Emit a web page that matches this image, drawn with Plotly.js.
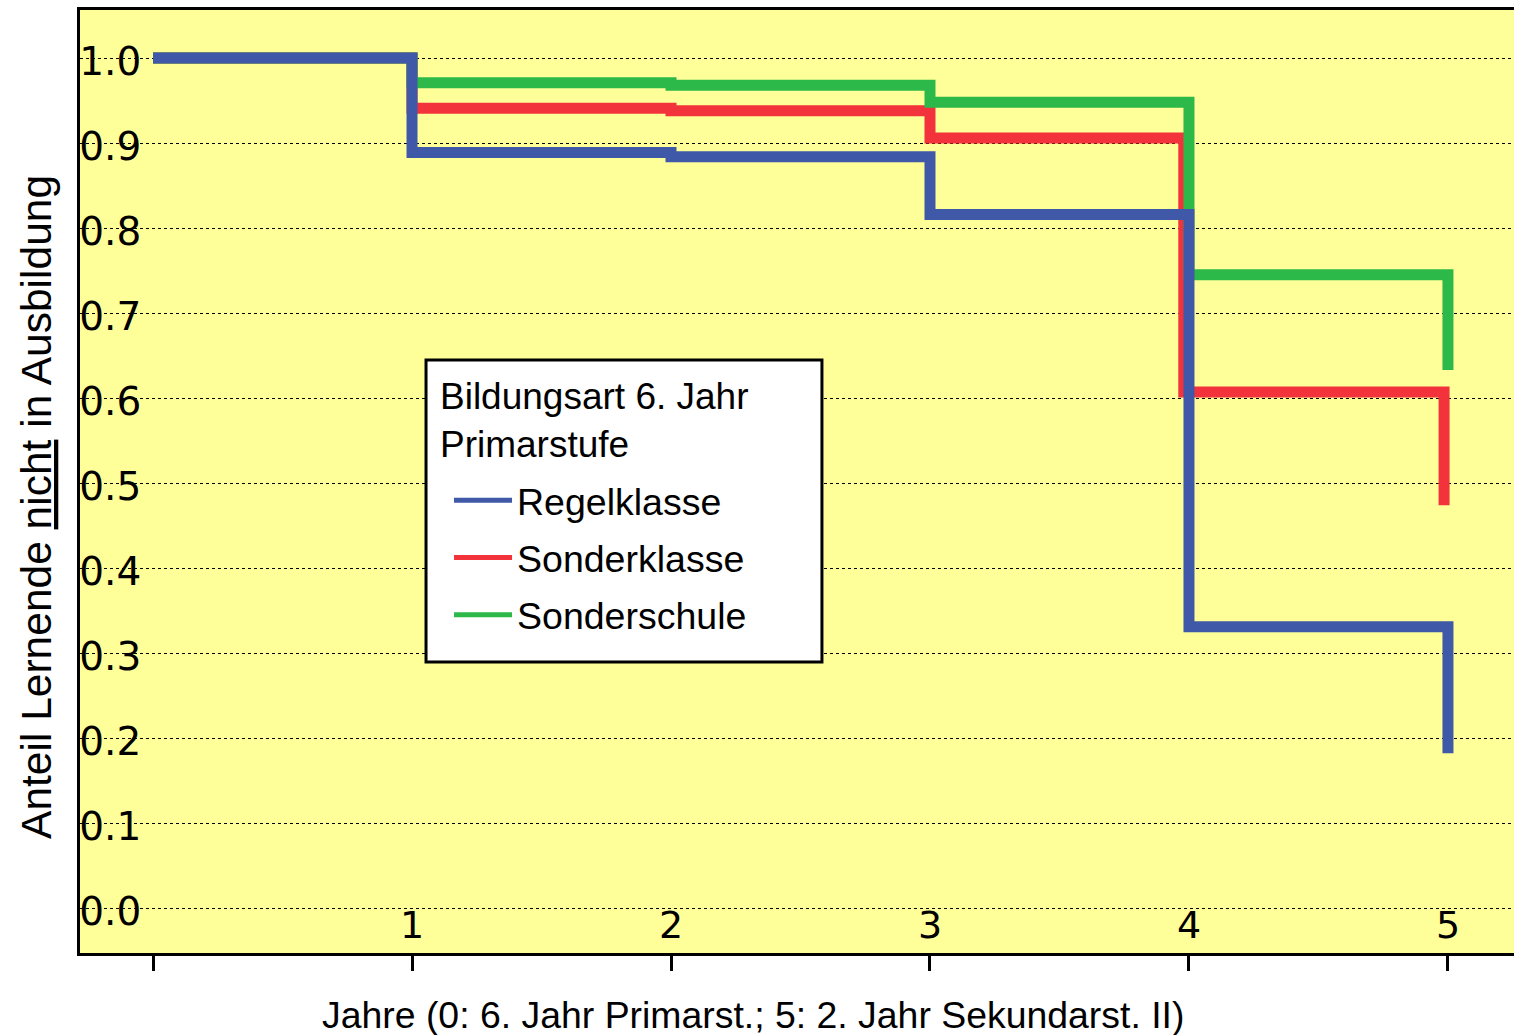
<!DOCTYPE html>
<html>
<head>
<meta charset="utf-8">
<script src="https://cdn.plot.ly/plotly-3.0.1.min.js"></script>
<style>html,body{margin:0;padding:0;background:#fff;overflow:hidden}</style>
</head>
<body>
<div id="chart" style="width:1514px;height:1035px"></div>
<script>
// Years (0: 6th year primary, 5: 2nd year upper secondary)
const years = [0, 1, 2, 3, 4, 5];
const yearsSonderklasse = [0, 1, 2, 3, 3.98, 4.985];
const regelklasse  = [1.0, 0.889, 0.884, 0.816, 0.331, 0.182];
const sonderklasse = [1.0, 0.941, 0.938, 0.906, 0.607, 0.474];
const sonderschule = [1.0, 0.971, 0.968, 0.948, 0.745, 0.633];
const xTickVals = [0, 1, 2, 3, 4, 5];
const xTickText = ["", "1", "2", "3", "4", "5"];
const seriesNames = ["Regelklasse", "Sonderklasse", "Sonderschule"];
const legendTitle = "Bildungsart 6. Jahr<br>Primarstufe";
const colors = ["#3F58A8", "#F2333B", "#2DB84A"];

const lw = 11;
const series = [
  {x: yearsSonderklasse, y: sonderklasse, name: seriesNames[1], color: colors[1], rank: 2},
  {x: years, y: sonderschule, name: seriesNames[2], color: colors[2], rank: 3},
  {x: years, y: regelklasse, name: seriesNames[0], color: colors[0], rank: 1}
];
const traces = series.map(t => ({
  type: 'scatter', mode: 'lines', x: t.x, y: t.y, name: t.name,
  showlegend: false,
  line: {shape: 'hv', color: t.color, width: lw},
  hoverinfo: 'skip'
}));
// legend entries (thinner line swatches as in the original legend)
series.forEach(t => traces.push({
  type: 'scatter', mode: 'lines', x: [null], y: [null], name: t.name,
  legendgroup: t.name, legendrank: t.rank, showlegend: true,
  line: {color: t.color, width: 5}, hoverinfo: 'skip'
}));

const fontTxt = 'Liberation Sans, Arial, sans-serif';
const fontNum = 'DejaVu Sans, Verdana, sans-serif';

const xLabelAnnots = xTickVals.map((v, i) => ({
  text: xTickText[i], xref: 'x', yref: 'paper', x: v, y: 0.0297,
  xanchor: 'center', yanchor: 'middle', showarrow: false,
  font: {family: fontNum, size: 38, color: '#000'}
}));

const layout = {
  width: 1514, height: 1035,
  margin: {l: 80, r: 0, t: 10, b: 82, pad: 0},
  paper_bgcolor: '#ffffff',
  plot_bgcolor: '#FFFF99',
  showlegend: true,
  legend: {
    x: 0.2413, y: 0.5128, xanchor: 'left', yanchor: 'top',
    bgcolor: 'rgba(0,0,0,0)', borderwidth: 0,
    font: {family: fontTxt, size: 37.5, color: '#000'},
    traceorder: 'grouped', tracegroupgap: 5.5,
    itemwidth: 58, indentation: 23
  },
  shapes: [
    {type: 'rect', xref: 'paper', yref: 'paper', x0: 0.2413, x1: 0.5174, y0: 0.3086, y1: 0.6288,
     fillcolor: '#ffffff', line: {color: '#000', width: 3}, layer: 'above'}
  ],
  xaxis: {
    range: [-0.282, 5.255],
    showgrid: false, zeroline: false,
    showline: true, linecolor: '#000', linewidth: 3, mirror: true,
    ticks: 'outside', ticklen: 15, tickwidth: 3, tickcolor: '#000',
    tickmode: 'array', tickvals: xTickVals, showticklabels: false
  },
  yaxis: {
    range: [-0.0529, 1.0565],
    showgrid: true, gridcolor: '#000', gridwidth: 1, griddash: 'dot',
    zeroline: false,
    showline: true, linecolor: '#000', linewidth: 3,
    ticks: '', tickmode: 'linear', tick0: 0, dtick: 0.1, tickformat: '.1f',
    ticklabelposition: 'inside', ticklabelstandoff: 4, ticklabelshift: 3,
    tickfont: {family: fontNum, size: 39, color: '#000'}
  },
  annotations: [
    {text: legendTitle, xref: 'paper', yref: 'paper', x: 0.2497, y: 0.5652,
     xanchor: 'left', yanchor: 'middle', align: 'left', showarrow: false,
     font: {family: fontTxt, size: 37, color: '#000'}},
    {text: 'Jahre (0: 6. Jahr Primarst.; 5: 2. Jahr Sekundarst. II)',
     xref: 'paper', yref: 'paper', x: 0.4693, y: -0.0657,
     xanchor: 'center', yanchor: 'middle', showarrow: false,
     font: {family: fontTxt, size: 37.4, color: '#000'}},
    {text: 'Anteil Lernende <u>nicht</u> in Ausbildung',
     xref: 'paper', yref: 'paper', x: -0.0300, y: 0.473,
     xanchor: 'center', yanchor: 'middle', showarrow: false, textangle: -90,
     font: {family: fontTxt, size: 42.5, color: '#000'}}
  ].concat(xLabelAnnots)
};

Plotly.newPlot('chart', traces, layout, {displayModeBar: false, responsive: false});
</script>
</body>
</html>
